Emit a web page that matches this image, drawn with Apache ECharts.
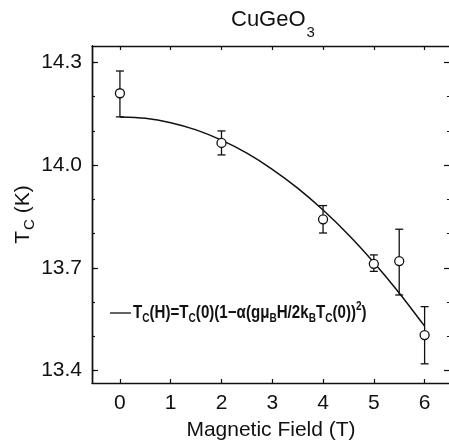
<!DOCTYPE html>
<html><head><meta charset="utf-8">
<script src="https://cdn.jsdelivr.net/npm/echarts@6/dist/echarts.min.js"></script>
<style>html,body{margin:0;padding:0;background:#fff}#c{width:449px;height:444px}</style>
</head><body><div id="c"></div>
<script>
const fieldT = [0, 2, 4, 5, 5.5, 6];
const tcK    = [14.21, 14.065, 13.842, 13.712, 13.72, 13.504];
const tcLow  = [14.141, 14.030, 13.802, 13.690, 13.621, 13.420];
const tcHigh = [14.275, 14.100, 13.882, 13.738, 13.813, 13.587];
// Fit curve
const fitField = [0, 0.5, 1, 1.5, 2, 2.5, 3, 3.5, 4, 4.5, 5, 5.5, 6];
const fitTc    = [14.141, 14.137, 14.124, 14.103, 14.073, 14.035, 13.988, 13.933, 13.869, 13.797, 13.716, 13.627, 13.530];
// Tick labels
const xTicks = [0, 1, 2, 3, 4, 5, 6];
const yMajor = [13.4, 13.7, 14.0, 14.3];
const yMinor = [13.4, 13.5, 13.6, 13.7, 13.8, 13.9, 14.0, 14.1, 14.2, 14.3];

const FONT = 'Liberation Sans';
const INK = '#111';
const X_MIN = -0.55, X_MAX = 6.5, Y_MIN = 13.364, Y_MAX = 14.348;

const chart = echarts.init(document.getElementById('c'), null, {renderer: 'canvas'});

function xAx(pos, showLabel) {
  return {
    type: 'value', position: pos, min: X_MIN, max: X_MAX,
    axisLine: {show: true, onZero: false, lineStyle: {color: INK, width: 1.4}},
    axisTick: {show: true, inside: true, length: 4, customValues: xTicks, lineStyle: {color: INK, width: 1.2}},
    axisLabel: {show: showLabel, customValues: xTicks, margin: 10, color: INK, fontFamily: FONT, fontSize: 21},
    splitLine: {show: false}
  };
}
function yAx(pos, ticks, len, showLabel) {
  return {
    type: 'value', position: pos, min: Y_MIN, max: Y_MAX,
    axisLine: {show: true, onZero: false, lineStyle: {color: INK, width: 1.4}},
    axisTick: {show: true, inside: true, length: len, customValues: ticks, lineStyle: {color: INK, width: 1.2}},
    axisLabel: {show: showLabel, customValues: yMajor, margin: 10, color: INK, fontFamily: FONT, fontSize: 21,
      formatter: v => v.toFixed(1)},
    splitLine: {show: false}
  };
}

const xA = xAx('bottom', true);
xA.name = 'Magnetic Field (T)';
xA.nameLocation = 'middle';
xA.nameGap = 37;
xA.nameMoveOverlap = false;
xA.nameTextStyle = {color: INK, fontFamily: FONT, fontSize: 21};

const yA = yAx('left', yMajor, 6, true);
yA.name = '{m|T}{s|C}{m| (K)}';
yA.nameLocation = 'middle';
yA.nameGap = 58;
yA.nameMoveOverlap = false;
yA.nameTextStyle = {color: INK, fontFamily: FONT, fontSize: 21, rich: {
  m: {fontFamily: FONT, fontSize: 21, lineHeight: 22, color: INK},
  s: {fontFamily: FONT, fontSize: 15, lineHeight: 15, color: INK, padding: [14, 0, 0, 1]}
}};

const option = {
  backgroundColor: '#fff',
  animation: false,
  title: {
    text: '{m|CuGeO}{s|3}', left: 231, top: 8, padding: 0,
    textStyle: {fontFamily: FONT, fontSize: 22, fontWeight: 'normal', color: INK, rich: {
      m: {fontFamily: FONT, fontSize: 22, fontWeight: 'normal', lineHeight: 23, color: INK},
      s: {fontFamily: FONT, fontSize: 15, fontWeight: 'normal', lineHeight: 15, color: INK, padding: [27, 0, 0, 1]}
    }}
  },
  grid: {left: 92, right: -1, top: 46, bottom: 61, outerBoundsMode: 'none', containLabel: false},
  xAxis: [xA, xAx('top', false)],
  yAxis: [yA, yAx('left', yMinor, 3, false), yAx('right', yMajor, 6, false), yAx('right', yMinor, 3, false)],
  graphic: [
    {type: 'line', shape: {x1: 110, y1: 313, x2: 131, y2: 313}, style: {stroke: INK, lineWidth: 1.3}},
    {type: 'text', x: 133, y: 313, scaleX: 0.84,
      style: {
        text: '{m|T}{s|C}{m|(H)=T}{s|C}{m|(0)(1−α(gμ}{s|B}{m|H/2k}{s|B}{m|T}{s|C}{m|(0))}{p|2}{m|)}',
        verticalAlign: 'middle', align: 'left',
        rich: {
          m: {fontFamily: FONT, fontSize: 18, lineHeight: 19, fill: INK, fontWeight: 'bold'},
          s: {fontFamily: FONT, fontSize: 12, lineHeight: 12, fill: INK, fontWeight: 'bold', padding: [11, 0, 0, 0]},
          p: {fontFamily: FONT, fontSize: 12, lineHeight: 12, fill: INK, fontWeight: 'bold', padding: [0, 0, 12, 0]}
        }
      }}
  ],
  series: [
    {
      type: 'line', xAxisIndex: 0, yAxisIndex: 0, smooth: 0.3, showSymbol: false, symbol: 'none',
      data: fitField.map((x, i) => [x, fitTc[i]]),
      lineStyle: {color: INK, width: 1.5}, z: 2
    },
    {
      type: 'custom', xAxisIndex: 0, yAxisIndex: 0,
      data: fieldT.map((x, i) => [x, tcLow[i], tcHigh[i]]),
      encode: {x: 0, y: [1, 2]},
      renderItem(params, api) {
        const lo = api.coord([api.value(0), api.value(1)]);
        const hi = api.coord([api.value(0), api.value(2)]);
        const w = 4;
        const st = {stroke: INK, lineWidth: 1.3, fill: null};
        return {type: 'group', children: [
          {type: 'line', shape: {x1: hi[0], y1: hi[1], x2: lo[0], y2: lo[1]}, style: st},
          {type: 'line', shape: {x1: hi[0] - w, y1: hi[1], x2: hi[0] + w, y2: hi[1]}, style: st},
          {type: 'line', shape: {x1: lo[0] - w, y1: lo[1], x2: lo[0] + w, y2: lo[1]}, style: st}
        ]};
      },
      z: 3
    },
    {
      type: 'scatter', xAxisIndex: 0, yAxisIndex: 0, symbol: 'circle', symbolSize: 9,
      data: fieldT.map((x, i) => [x, tcK[i]]),
      itemStyle: {color: '#fff', borderColor: INK, borderWidth: 1.3, opacity: 1}, z: 4
    }
  ]
};
chart.setOption(option);
</script>
</body></html>
